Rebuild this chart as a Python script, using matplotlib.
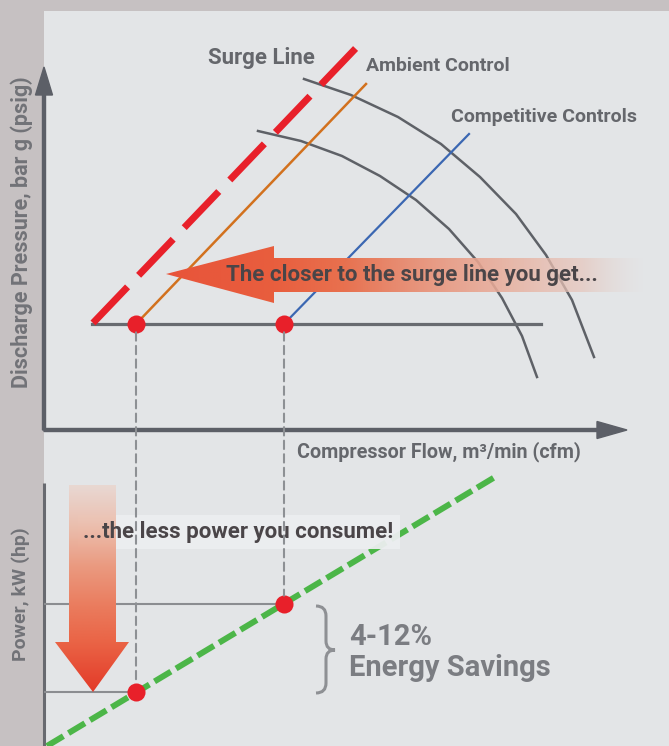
import numpy as np
import matplotlib
matplotlib.use("Agg")
import matplotlib.pyplot as plt
from matplotlib.patches import Polygon, Rectangle, PathPatch, ConnectionPatch
from matplotlib.path import Path
from matplotlib.colors import to_rgb

plt.rcParams['font.family'] = ['Roboto', 'DejaVu Sans']

# upper chart: compressor flow vs discharge pressure (arbitrary units)
surge_flow = [49, 313]
surge_pressure = [107, 383]
ambient_flow = [92, 322]
ambient_pressure = [106, 346]
competitive_flow = [240, 425]
competitive_pressure = [106, 296]
operating_flow = [48, 497]
operating_pressure = [106, 106]
point_flow = [92, 240]          # ambient control, competitive controls
point_pressure = [106, 106]
curve_inner_flow = [214, 257, 298, 336, 372, 405, 434, 458, 478, 493]
curve_inner_pressure = [299, 289, 274, 254, 230, 201, 168, 132, 94, 53]
curve_outer_flow = [260, 307, 354, 397, 436, 472, 502, 528, 550]
curve_outer_pressure = [351, 335, 313, 286, 253, 216, 175, 130, 73]

# lower chart: compressor flow vs power
power_line_flow = [3, 451]
power_line_power = [0, 269]
point_power = [54, 142]

BG = '#e3e5e7'
BAND = '#c6c1c2'
AXIS = '#5c5f67'
LABEL = '#65676c'
RED = '#e8202a'

fig = plt.figure(figsize=(6.69, 7.46), dpi=100, facecolor=BAND)
fig.add_artist(Rectangle((44 / 669, 0), 625 / 669, 735 / 746, transform=fig.transFigure,
                         facecolor=BG, edgecolor='none', zorder=-5))
ax1 = fig.add_axes([44 / 669, 316 / 746, 625 / 669, 419 / 746])
ax2 = fig.add_axes([44 / 669, 0, 625 / 669, 284 / 746])


def gradient_fill(ax, poly_xy, extent, stops, colors, alphas, horizontal, zorder):
    poly = Polygon(poly_xy, closed=True, facecolor='none', edgecolor='none')
    ax.add_patch(poly)
    lo, hi = (extent[0], extent[1]) if horizontal else (extent[2], extent[3])
    t = np.linspace(lo, hi, 300)
    rgb = np.array([to_rgb(c) for c in colors])
    rgba = np.zeros((300, 4))
    for k in range(3):
        rgba[:, k] = np.interp(t, stops, rgb[:, k])
    rgba[:, 3] = np.interp(t, stops, alphas)
    img = rgba[np.newaxis, :, :] if horizontal else rgba[:, np.newaxis, :]
    im = ax.imshow(img, extent=extent, origin='lower', aspect='auto',
                   interpolation='bilinear', zorder=zorder)
    im.set_clip_path(poly)


# ---- upper chart ----
ax1.arrow(0, 0, 583, 0, width=3, head_width=17, head_length=30, length_includes_head=True,
          color=AXIS, clip_on=False, zorder=3)
ax1.arrow(0, 0, 0, 363, width=3, head_width=17, head_length=28, length_includes_head=True,
          color=AXIS, clip_on=False, zorder=3)

ax1.plot(curve_inner_flow, curve_inner_pressure, color='#5e6167', lw=1.8, zorder=2)
ax1.plot(curve_outer_flow, curve_outer_pressure, color='#5e6167', lw=1.8, zorder=2)
ax1.plot(operating_flow, operating_pressure, color='#686b70', lw=2.3, zorder=3)
ax1.plot(ambient_flow, ambient_pressure, color='#d2711e', lw=1.8, zorder=3)
ax1.plot(competitive_flow, competitive_pressure, color='#3b67b2', lw=1.6, zorder=3)
ax1.plot(surge_flow, surge_pressure, color=RED, lw=5, ls=(0, (7.2, 2.3)),
         dash_capstyle='butt', zorder=4)
ax1.plot(point_flow, point_pressure, 'o', ms=13, color=RED, mec='none', zorder=7)

gradient_fill(ax1, [(122, 156), (230, 184), (230, 172), (600, 172), (600, 138), (230, 138), (230, 127)],
              [122, 600, 127, 184],
              [122, 230, 300, 380, 470, 540, 600],
              ['#e8543a', '#e85e3e', '#e8714f', '#e8937a', '#e8b1a0', '#e6c6bc', '#e4d6d2'],
              [1, 1, 1, 0.95, 0.85, 0.7, 0.0], True, 5)
ax1.text(182, 155, 'The closer to the surge line you get...', ha='left', va='center',
         fontsize=16, fontweight='bold', color='#4a4548', zorder=8)

ax1.text(217, 372, 'Surge Line', ha='center', va='center', fontsize=16,
         fontweight='bold', color=LABEL)
ax1.text(322, 364, 'Ambient Control', ha='left', va='center', fontsize=14,
         fontweight='bold', color=LABEL)
ax1.text(407, 313, 'Competitive Controls', ha='left', va='center', fontsize=14,
         fontweight='bold', color=LABEL)
ax1.text(253, -22, 'Compressor Flow, m\u00b3/min (cfm)', ha='left', va='center',
         fontsize=14.2, fontweight='bold', color=LABEL, clip_on=False)
ax1.text(-22, 198, 'Discharge Pressure, bar g (psig)', rotation=90, ha='center',
         va='center', fontsize=15.5, fontweight='bold', color='#727378', clip_on=False)

# ---- lower chart ----
ax2.plot([0, 0], [0, 263], color='#686a70', lw=2.2, solid_capstyle='butt', clip_on=False)
ax2.plot([0, point_flow[1]], [point_power[1]] * 2, color='#8b8d91', lw=1.5, zorder=2)
ax2.plot([0, point_flow[0]], [point_power[0]] * 2, color='#8b8d91', lw=1.5, zorder=2)
ax2.plot(power_line_flow, power_line_power, color='#4cb648', lw=4.3,
         ls=(0, (3.2, 1.0)), dash_capstyle='butt', zorder=3, clip_on=False)
ax2.add_patch(Rectangle((34, 197), 322, 34, facecolor='#eceef0', edgecolor='none',
                        alpha=0.95, zorder=4))
gradient_fill(ax2, [(25, 261), (72, 261), (72, 104), (85, 104), (49, 54), (11, 104), (25, 104)],
              [11, 85, 54, 261],
              [54, 104, 140, 180, 220, 261],
              ['#e33a28', '#ea6446', '#ea7c5e', '#eb9a80', '#ecbcaa', '#ead6cf'],
              [1, 1, 1, 1, 0.95, 0.85], False, 5)
ax2.text(39, 214, '...the less power you consume!', ha='left', va='center',
         fontsize=16, fontweight='bold', color='#4a4548', zorder=8)
ax2.plot(point_flow, point_power, 'o', ms=13, color=RED, mec='none', zorder=7)

brace = Path([(272, 140), (282, 140), (282, 130), (282, 105), (282, 96), (291, 96),
              (282, 96), (282, 87), (282, 63), (282, 53), (272, 53)],
             [Path.MOVETO, Path.CURVE3, Path.CURVE3, Path.LINETO, Path.CURVE3, Path.CURVE3,
              Path.CURVE3, Path.CURVE3, Path.LINETO, Path.CURVE3, Path.CURVE3])
ax2.add_patch(PathPatch(brace, facecolor='none', edgecolor='#8e9094', lw=2.2, zorder=3))
ax2.text(305, 109, '4-12%', ha='left', va='center', fontsize=21, fontweight='bold',
         color='#7b7d82')
ax2.text(305, 78, 'Energy Savings', ha='left', va='center', fontsize=21,
         fontweight='bold', color='#7b7d82')
ax2.text(-23, 152, 'Power, kW (hp)', rotation=90, ha='center', va='center', fontsize=14,
         fontweight='bold', color='#727378', clip_on=False)

# dashed drop lines from the pressure chart to the power chart
for f, pw in zip(point_flow, point_power):
    con = ConnectionPatch(xyA=(f, point_pressure[0]), coordsA=ax1.transData,
                          xyB=(f, pw), coordsB=ax2.transData, color='#8d9094', lw=1.5,
                          ls=(0, (4, 2.5)), shrinkA=6, shrinkB=6, zorder=6)
    fig.add_artist(con)

for ax in (ax1, ax2):
    ax.set_axis_off()
    ax.set_xlim(0, 625)
ax1.set_ylim(0, 419)
ax2.set_ylim(0, 284)

fig.savefig('out.png', dpi=100, facecolor=fig.get_facecolor())
